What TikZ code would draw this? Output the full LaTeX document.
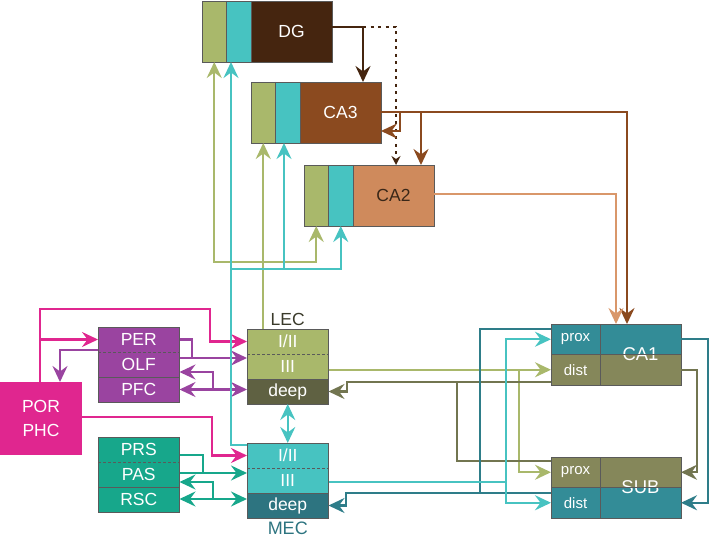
\documentclass[tikz,border=0pt]{standalone}
\usepackage{fontspec}
\setmainfont{Liberation Sans}
\usetikzlibrary{arrows.meta}
\definecolor{cGreen}{HTML}{A9B86B}
\definecolor{cCyan}{HTML}{47C3C1}
\definecolor{cDeepol}{HTML}{5F6142}
\definecolor{cDeeptl}{HTML}{2D7480}
\definecolor{cPurp}{HTML}{9A44A0}
\definecolor{cMag}{HTML}{E0268F}
\definecolor{cTealg}{HTML}{17A78B}
\definecolor{cDG}{HTML}{45250F}
\definecolor{cCAthree}{HTML}{8B4A1F}
\definecolor{cCAtwo}{HTML}{CF8A5C}
\definecolor{cCAtwoln}{HTML}{D9976A}
\definecolor{cProx}{HTML}{338C97}
\definecolor{cDist}{HTML}{85875A}
\definecolor{cOliveln}{HTML}{727550}
\definecolor{cTealln}{HTML}{2E7D89}
\definecolor{cBord}{HTML}{5A5A5A}
\definecolor{cText}{HTML}{3A2718}
\definecolor{cLab}{HTML}{3A3A2A}
\begin{document}
\begin{tikzpicture}[x=1pt,y=-1pt,>={Stealth[length=16pt,width=15pt,inset=5.5pt]},
  box/.style={inner sep=0pt,outer sep=0pt,text=white,font=\fontsize{17.5}{20}\selectfont},
  bord/.style={draw=cBord,line width=0.9pt},
  conn/.style={line width=2.4pt},
  dgl/.style={conn,draw=cDG,line width=2.8pt},
  cathreel/.style={conn,draw=cCAthree,line width=2.6pt},
  catwol/.style={conn,draw=cCAtwoln},
  greenl/.style={conn,draw=cGreen},
  cyanl/.style={conn,draw=cCyan},
  magl/.style={conn,draw=cMag},
  purpl/.style={conn,draw=cPurp},
  tealgl/.style={conn,draw=cTealg},
  olivel/.style={conn,draw=cOliveln},
  darktl/.style={conn,draw=cTealln}]
\useasboundingbox (0,0) rectangle (709,537);
\foreach \n/\x/\y/\col/\tc/\lab in {dg/202/1/cDG/white/DG,ca3/251/82/cCAthree/white/CA3,ca2/304/165/cCAtwo/cText/CA2}
{
    \node[box,fill=cGreen,minimum width=24.5pt,minimum height=61pt,anchor=north west](\n g) at (\x,\y){};
    \node[box,fill=cCyan,minimum width=24.5pt,minimum height=61pt,anchor=north west](\n c) at (\n g.north east){};
    \node[box,fill=\col,text=\tc,minimum width=81pt,minimum height=61pt,anchor=north west](\n) at (\n c.north east){\lab};
    \draw[bord](\n g.north west) rectangle (\n.south east);
    \draw[bord](\n g.north east)--(\n g.south east) (\n c.north east)--(\n c.south east);
}
\foreach \n/\x/\y/\ca/\cb/\la/\lb/\lc in {per/98/327/cPurp/cPurp/PER/OLF/PFC,prs/98/437/cTealg/cTealg/PRS/PAS/RSC,lec/247/329/cGreen/cDeepol/{I/II}/III/deep,mec/247/443/cCyan/cDeeptl/{I/II}/III/deep}
{
    \node[box,fill=\ca,minimum width=81.5pt,minimum height=25pt,anchor=north west](\n1) at (\x,\y){\la};
    \node[box,fill=\ca,minimum width=81.5pt,minimum height=25pt,anchor=north](\n2) at (\n1.south){\lb};
    \node[box,fill=\cb,minimum width=81.5pt,minimum height=25pt,anchor=north](\n3) at (\n2.south){\lc};
    \draw[bord](\n1.north west) rectangle (\n3.south east);
    \draw[bord,dash pattern=on 3pt off 2pt](\n1.south west)--(\n1.south east);
    \draw[bord](\n2.south west)--(\n2.south east);
}
\foreach \n/\y/\ca/\cb/\lab in {ca1/324/cProx/cDist/CA1,sub/457/cDist/cProx/SUB}
{
    \node[box,font=\fontsize{15}{17}\selectfont,fill=\ca,minimum width=49pt,minimum height=30.5pt,anchor=north west](\n p) at (551,\y){prox};
    \node[box,font=\fontsize{15}{17}\selectfont,fill=\cb,minimum width=49pt,minimum height=30.5pt,anchor=north](\n d) at (\n p.south){dist};
    \node[box,fill=\ca,minimum width=81pt,minimum height=30.5pt,anchor=north west](\n r) at (\n p.north east){};
    \node[box,fill=\cb,minimum width=81pt,minimum height=30.5pt,anchor=north](\n s) at (\n r.south){};
    \node[box,font=\fontsize{18.5}{20}\selectfont](\n) at (\n r.south){\lab};
    \draw[bord](\n p.north west) rectangle (\n s.south east);
    \draw[bord](\n p.north east)--(\n d.south east) (\n p.south west)--(\n s.north east);
}
\node[box,fill=cMag,minimum width=82pt,minimum height=73pt,anchor=north west,align=center,font=\fontsize{17.5}{24}\selectfont](por) at (0,382){POR\\PHC};
\node[above,text=cLab,font=\fontsize{17.5}{20}\selectfont](leclab) at (lec1.north){LEC};
\node[below,text=cDeeptl,font=\fontsize{18}{20}\selectfont](meclab) at (mec3.south){MEC};
\draw[dgl,->](dg.east|-0,27)--(363,27)--(ca3.north-|363,0);
\draw[dgl,dash pattern=on 3pt off 4.5pt,-{Stealth[length=9pt,width=9pt,inset=3pt]}](363,27)--(396,27)--(ca2.north-|396,0);
\draw[cathreel,->](ca3.east|-0,112)--(627,112)--(ca1r.north-|627,0);
\draw[cathreel,->](400,112)--(400,131)--(ca3.east|-0,131);
\draw[cathreel,->](421,112)--(ca2.north-|421,0);
\draw[catwol,->](ca2.east|-0,194)--(616,194)--(ca1r.north-|616,0);
\draw[magl,->](por.north-|40,0)|-(210,309)|-(lec1.west);
\draw[magl,->](per1.west-|40,0)--(per1.west);
\draw[magl,->](por.east|-0,417)-|(mec1.west-|212,0)--(mec1.west);
\draw[purpl,->](per1.west|-0,350)-|(por.north-|60,0);
\draw[purpl](per1.east)-|(192,358);
\draw[purpl,->](per2.east|-0,358)--(lec2.west|-0,358);
\draw[purpl,<->](per3.east)--(lec3.west|-per3.east);
\draw[purpl,->](213,389.5)|-(per2.east|-0,372);
\draw[tealgl](prs1.east|-0,455)-|(203,473);
\draw[tealgl,->](prs2.east|-0,473)--(mec2.west|-0,473);
\draw[tealgl,<->](prs3.east|-0,499)--(mec3.west|-0,499);
\draw[tealgl,->](213,499)|-(prs2.east|-0,482);
\draw[greenl,->](lec1.north-|ca3g.south)--(ca3g.south);
\draw[greenl,->](ca3g.south|-0,262)-|(dgg.south);
\draw[greenl,->](ca3g.south|-0,262)-|(ca2g.south);
\draw[cyanl,->](mec1.west|-0,445)-|(dgc.south-|231,0);
\draw[cyanl,->](231,269)-|(ca3c.south-|284,0);
\draw[cyanl,->](284,269)-|(ca2c.south);
\draw[cyanl,<->](lec3.south)--(mec1.north);
\draw[greenl,->](lec2.east|-ca1d.west)--(ca1d.west);
\draw[greenl,->](519,369.75)|-(subp.west);
\draw[olivel,->](ca1d.west|-0,382)-|(lec3.east-|347,0)--(lec3.east);
\draw[olivel](457,382)|-(subp.west|-0,461);
\draw[darktl](ca1p.west|-0,329)-|(480,493);
\draw[darktl,->](subd.west|-0,493)-|(mec3.east-|346,0)--(mec3.east);
\draw[cyanl,->](mec2.east|-0,482)-|(ca1p.west-|506,0)--(ca1p.west);
\draw[cyanl,->](506,482)|-(subd.west);
\draw[olivel,->](ca1s.east)-|(subr.east-|697,0)--(subr.east);
\draw[darktl,->](ca1r.east)-|(subs.east-|708,0)--(subs.east);
\end{tikzpicture}
\end{document}
